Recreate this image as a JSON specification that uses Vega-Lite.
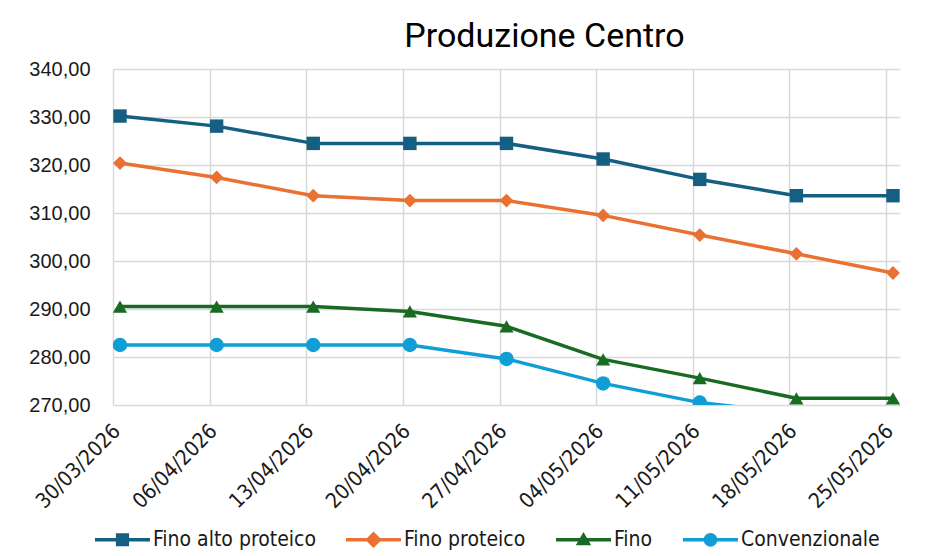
{
  "$schema": "https://vega.github.io/schema/vega-lite/v6.json",
  "autosize": {"type": "none"},
  "padding": {"left": 113, "top": 69, "right": 39, "bottom": 151},
  "width": 787,
  "height": 336,
  "background": "white",
  "title": {
    "text": "Produzione Centro",
    "font": "Roboto",
    "fontSize": 34,
    "fontWeight": "normal",
    "color": "#000000",
    "anchor": "middle",
    "dx": 38,
    "offset": 5
  },
  "data": {
    "values": [
      {"data": "30/03/2026", "serie": "Fino alto proteico", "valore": 330.2},
      {"data": "06/04/2026", "serie": "Fino alto proteico", "valore": 328.1},
      {"data": "13/04/2026", "serie": "Fino alto proteico", "valore": 324.5},
      {"data": "20/04/2026", "serie": "Fino alto proteico", "valore": 324.5},
      {"data": "27/04/2026", "serie": "Fino alto proteico", "valore": 324.5},
      {"data": "04/05/2026", "serie": "Fino alto proteico", "valore": 321.25},
      {"data": "11/05/2026", "serie": "Fino alto proteico", "valore": 317.0},
      {"data": "18/05/2026", "serie": "Fino alto proteico", "valore": 313.6},
      {"data": "25/05/2026", "serie": "Fino alto proteico", "valore": 313.6},
      {"data": "30/03/2026", "serie": "Fino proteico", "valore": 320.4},
      {"data": "06/04/2026", "serie": "Fino proteico", "valore": 317.4},
      {"data": "13/04/2026", "serie": "Fino proteico", "valore": 313.6},
      {"data": "20/04/2026", "serie": "Fino proteico", "valore": 312.6},
      {"data": "27/04/2026", "serie": "Fino proteico", "valore": 312.6},
      {"data": "04/05/2026", "serie": "Fino proteico", "valore": 309.5},
      {"data": "11/05/2026", "serie": "Fino proteico", "valore": 305.4},
      {"data": "18/05/2026", "serie": "Fino proteico", "valore": 301.5},
      {"data": "25/05/2026", "serie": "Fino proteico", "valore": 297.5},
      {"data": "30/03/2026", "serie": "Fino", "valore": 290.5},
      {"data": "06/04/2026", "serie": "Fino", "valore": 290.5},
      {"data": "13/04/2026", "serie": "Fino", "valore": 290.5},
      {"data": "20/04/2026", "serie": "Fino", "valore": 289.5},
      {"data": "27/04/2026", "serie": "Fino", "valore": 286.4},
      {"data": "04/05/2026", "serie": "Fino", "valore": 279.5},
      {"data": "11/05/2026", "serie": "Fino", "valore": 275.6},
      {"data": "18/05/2026", "serie": "Fino", "valore": 271.4},
      {"data": "25/05/2026", "serie": "Fino", "valore": 271.4},
      {"data": "30/03/2026", "serie": "Convenzionale", "valore": 282.5},
      {"data": "06/04/2026", "serie": "Convenzionale", "valore": 282.5},
      {"data": "13/04/2026", "serie": "Convenzionale", "valore": 282.5},
      {"data": "20/04/2026", "serie": "Convenzionale", "valore": 282.5},
      {"data": "27/04/2026", "serie": "Convenzionale", "valore": 279.6},
      {"data": "04/05/2026", "serie": "Convenzionale", "valore": 274.5},
      {"data": "11/05/2026", "serie": "Convenzionale", "valore": 270.5},
      {"data": "18/05/2026", "serie": "Convenzionale", "valore": 268.2},
      {"data": "25/05/2026", "serie": "Convenzionale", "valore": 268.2}
    ]
  },
  "encoding": {
    "x": {
      "field": "data",
      "type": "ordinal",
      "sort": null,
      "scale": {"type": "point", "padding": 0.0724},
      "axis": {
        "title": null,
        "domain": false,
        "ticks": false,
        "grid": true,
        "gridColor": "#d9d9d9",
        "gridWidth": 1.5,
        "tickOffset": -7,
        "labelOffset": -4,
        "labelAngle": -45,
        "labelFont": "DejaVu Sans Condensed, Liberation Sans",
        "labelFontSize": 21,
        "labelColor": "#1a1a1a",
        "labelPadding": 15
      }
    },
    "y": {
      "field": "valore",
      "type": "quantitative",
      "scale": {"domain": [270, 340], "nice": false, "zero": false},
      "axis": {
        "title": null,
        "values": [270, 280, 290, 300, 310, 320, 330, 340],
        "labelExpr": "replace(format(datum.value, '.2f'), '.', ',')",
        "domain": false,
        "ticks": false,
        "grid": true,
        "gridColor": "#d9d9d9",
        "gridWidth": 1.5,
        "labelFont": "Liberation Sans",
        "labelFontSize": 20,
        "labelColor": "#1a1a1a",
        "labelPadding": 23
      }
    }
  },
  "layer": [
    {
      "mark": {"type": "line", "clip": true, "strokeWidth": 3.5, "strokeJoin": "round", "strokeCap": "round"},
      "encoding": {
        "color": {
          "field": "serie",
          "type": "nominal",
          "scale": {"domain": ["Fino alto proteico", "Fino proteico", "Fino", "Convenzionale"], "range": ["#156082", "#E97132", "#196B24", "#0F9ED5"]},
          "legend": null
        }
      }
    },
    {
      "mark": {"type": "point", "filled": true, "opacity": 1, "clip": true, "strokeWidth": 0},
      "encoding": {
        "color": {
          "field": "serie",
          "type": "nominal",
          "scale": {"domain": ["Fino alto proteico", "Fino proteico", "Fino", "Convenzionale"], "range": ["#156082", "#E97132", "#196B24", "#0F9ED5"]},
          "legend": null
        },
        "shape": {
          "field": "serie",
          "type": "nominal",
          "scale": {"domain": ["Fino alto proteico", "Fino proteico", "Fino", "Convenzionale"], "range": ["square", "diamond", "triangle-up", "circle"]},
          "legend": null
        },
        "size": {
          "field": "serie",
          "type": "nominal",
          "scale": {"domain": ["Fino alto proteico", "Fino proteico", "Fino", "Convenzionale"], "range": [180, 210, 210, 180]},
          "legend": null
        }
      }
    },
    {
      "mark": {"type": "point", "filled": true, "opacity": 0, "clip": true},
      "encoding": {
        "color": {
          "field": "serie",
          "type": "nominal",
          "scale": {"domain": ["Fino alto proteico", "Fino proteico", "Fino", "Convenzionale"], "range": ["#156082", "#E97132", "#196B24", "#0F9ED5"]},
          "legend": {
            "title": null,
            "orient": "none",
            "direction": "horizontal",
            "legendX": -18,
            "legendY": 443,
            "padding": 0,
            "symbolSize": 3025,
            "symbolOpacity": 1,
            "symbolStrokeWidth": 0,
            "labelOffset": 3,
            "columnPadding": 30,
            "labelFont": "DejaVu Sans Condensed, Liberation Sans",
            "labelFontSize": 21,
            "labelColor": "#1a1a1a",
            "labelLimit": 400
          }
        },
        "shape": {
          "field": "serie",
          "type": "nominal",
          "scale": {"domain": ["Fino alto proteico", "Fino proteico", "Fino", "Convenzionale"], "range": [
            "M-1,-0.06H1V0.06H-1Z M-0.24,-0.24H0.24V0.24H-0.24Z",
            "M-1,-0.06H1V0.06H-1Z M0,-0.3L0.3,0L0,0.3L-0.3,0Z",
            "M-1,-0.06H1V0.06H-1Z M0,-0.28L0.28,0.2L-0.28,0.2Z",
            "M-1,-0.06H1V0.06H-1Z M0.25,0A0.25,0.25,0,1,1,-0.25,0A0.25,0.25,0,1,1,0.25,0Z"
          ]},
          "legend": {
            "title": null,
            "orient": "none",
            "direction": "horizontal",
            "legendX": -18,
            "legendY": 443,
            "padding": 0,
            "symbolSize": 3025,
            "symbolOpacity": 1,
            "symbolStrokeWidth": 0,
            "labelOffset": 3,
            "columnPadding": 30,
            "labelFont": "DejaVu Sans Condensed, Liberation Sans",
            "labelFontSize": 21,
            "labelColor": "#1a1a1a",
            "labelLimit": 400
          }
        }
      }
    }
  ],
  "resolve": {
    "scale": {"color": "independent", "shape": "independent"},
    "legend": {"color": "independent", "shape": "independent"}
  },
  "config": {
    "view": {"stroke": null}
  }
}
